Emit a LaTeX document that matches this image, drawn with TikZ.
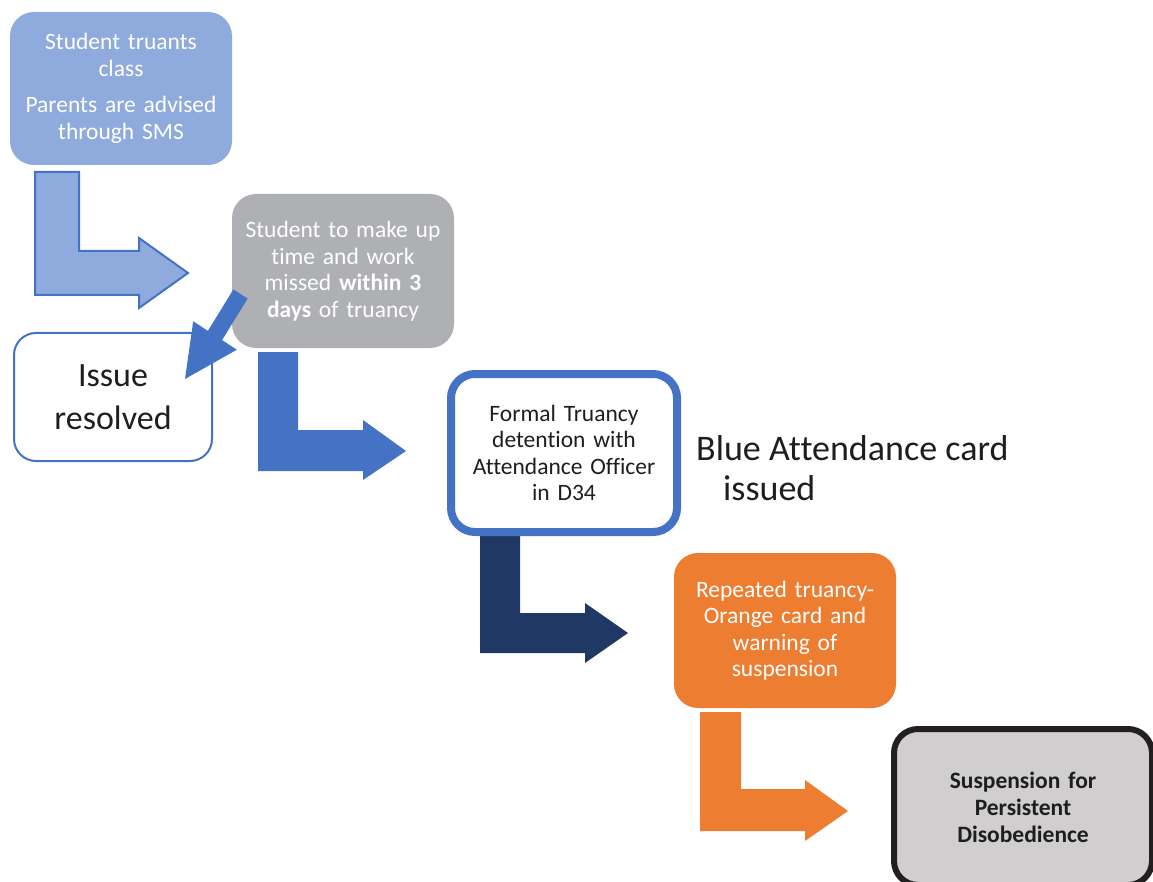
\documentclass[tikz,border=0pt]{standalone}
\usepackage{fontspec}
\setmainfont{Carlito}[Ligatures=NoCommon]
\definecolor{lblue}{HTML}{8FAADC}
\definecolor{mblue}{HTML}{4472C4}
\definecolor{navy}{HTML}{203864}
\definecolor{orng}{HTML}{ED7D31}
\definecolor{gbox}{RGB}{175,176,179}
\definecolor{lgbox}{HTML}{D0CECE}
\definecolor{dk}{HTML}{231F20}
\definecolor{txt}{HTML}{1E1E1E}
\tikzset{
  box/.style={rounded corners=24pt, align=center, inner sep=0pt, font=\fontsize{23.5}{26.5}\selectfont},
  bentarrow/.style={line join=miter},
}
\begin{document}
\begin{tikzpicture}[x=1pt,y=-1pt]
\useasboundingbox (0,0) rectangle (1153,882);
\clip (0,0) rectangle (1153,882);
% arrows behind boxes
\fill[lblue, draw=mblue, line width=2pt, bentarrow] (35,172) -- (79,172) -- (79,251) -- (139,251) -- (139,238) -- (188,273) -- (139,308) -- (139,295) -- (35,295) -- cycle;
\fill[mblue, bentarrow] (258,352) -- (298,352) -- (298,430) -- (363,430) -- (363,420) -- (406,451) -- (363,480) -- (363,471) -- (258,471) -- cycle;
\fill[navy, bentarrow] (480,530) -- (520,530) -- (520,613) -- (585,613) -- (585,603) -- (628,633) -- (585,663) -- (585,653) -- (480,653) -- cycle;
\fill[orng, bentarrow] (700,712) -- (741,712) -- (741,789) -- (805,789) -- (805,780) -- (848,811) -- (805,841) -- (805,831) -- (700,831) -- cycle;

\node[box, fill=lblue, text=white, minimum width=222pt, minimum height=153pt, text width=215pt] (b1) at (121,88.5)
  {Student truants\\class\\[10pt]Parents are advised\\through SMS};
\node[box, fill=gbox, text=white, minimum width=222pt, minimum height=154pt, text width=215pt] (b2) at (343,271)
  {Student to make up\\time and work\\missed \textbf{within 3}\\\textbf{days} of truancy};
\node[box, rounded corners=22pt, draw=mblue, line width=2pt, fill=white, text=txt, minimum width=198pt, minimum height=128pt, text width=190pt, font=\fontsize{34}{43}\selectfont] (ir) at (113,397)
  {Issue\\resolved};
\node[box, draw=mblue, line width=8pt, fill=white, text=txt, minimum width=226pt, minimum height=158pt, text width=215pt] (b3) at (564,453)
  {Formal Truancy\\detention with\\Attendance Officer\\in D34};
\node[anchor=west, align=left, inner sep=0pt, font=\fontsize{36}{40}\selectfont, text=txt] (card) at (696,468)
  {Blue Attendance card\\\hspace*{27pt}issued};
\node[box, fill=orng, text=white, minimum width=222pt, minimum height=155pt, text width=215pt] (b4) at (785,630.5)
  {Repeated truancy-\\Orange card and\\warning of\\suspension};
\node[box, draw=dk, line width=6pt, fill=lgbox, text=txt, minimum width=258pt, minimum height=156pt, text width=245pt, font=\bfseries\fontsize{23.5}{27}\selectfont] (b5) at (1023,807)
  {Suspension for\\Persistent\\Disobedience};

% diagonal arrow from b2 to issue resolved
\coordinate (dA) at (233.4,289.4);
\coordinate (dB) at (247.6,298.6);
\fill[mblue, line join=miter] (dA) -- (207.9,330.9) -- (193.2,321.3) -- (185,379) -- (236.8,349.7) -- (222.1,340.1) -- (dB) -- cycle;
\end{tikzpicture}
\end{document}
